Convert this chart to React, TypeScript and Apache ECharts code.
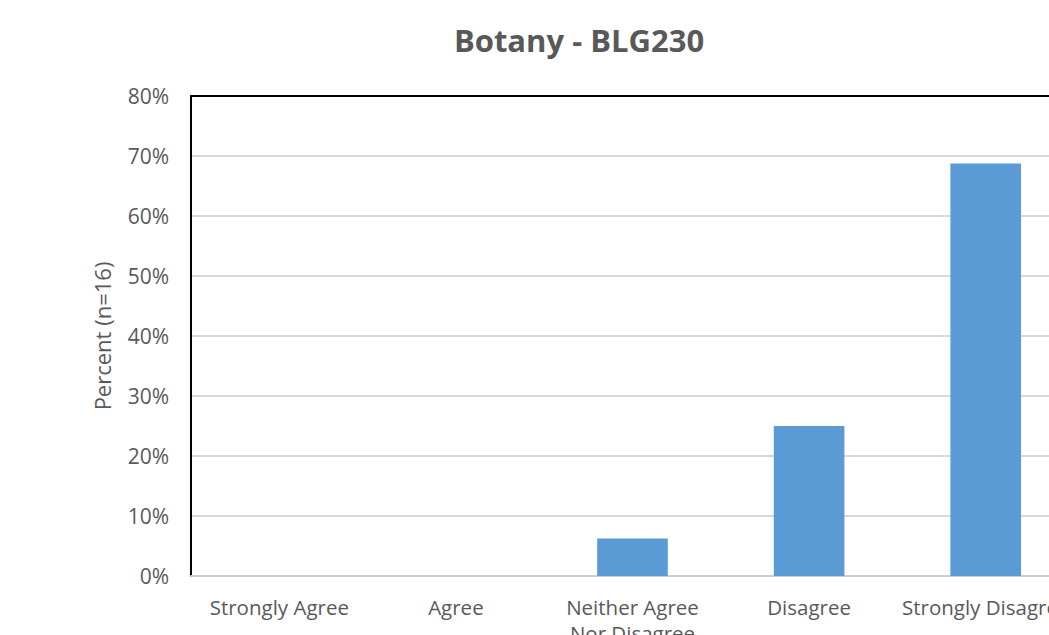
import React, { useEffect, useRef } from "react";
import * as echarts from "echarts";

const categories = ["Strongly Agree", "Agree", "Neither Agree\nNor Disagree", "Disagree", "Strongly Disagree"];
const percentValues = [0, 0, 6.25, 25, 68.75];
const yTicks = { min: 0, max: 80, interval: 10 };
const titleText = "Botany - BLG230";
const yAxisName = "Percent (n=16)";

export default function App() {
  const ref = useRef<HTMLDivElement>(null);
  useEffect(() => {
    if (!ref.current) return;
    const chart = echarts.init(ref.current, undefined, { renderer: "svg" });
    const font = "'Open Sans', 'Noto Sans', sans-serif";
    chart.setOption({
      animation: false,
      textStyle: { fontFamily: font },
      title: {
        text: titleText,
        left: 574,
        top: 19,
        textAlign: "center",
        textStyle: { fontFamily: font, fontSize: 31, fontWeight: "bold", color: "#595959" },
      },
      grid: { left: 191, top: 96, width: 883, height: 480, containLabel: false },
      xAxis: [
        {
          type: "category",
          data: categories,
          axisLine: { show: true, lineStyle: { color: "#d0d0d0", width: 2 } },
          axisTick: { show: false },
          axisLabel: { color: "#595959", fontSize: 20.5, fontFamily: font, margin: 18, lineHeight: 26, interval: 0 },
          splitLine: { show: false },
        },
        {
          type: "category",
          position: "top",
          data: categories,
          axisLine: { show: true, lineStyle: { color: "#000000", width: 2 } },
          axisTick: { show: false },
          axisLabel: { show: false },
        },
      ],
      yAxis: {
        type: "value",
        min: yTicks.min,
        max: yTicks.max,
        interval: yTicks.interval,
        name: yAxisName,
        nameLocation: "middle",
        nameGap: 78,
        nameTextStyle: { color: "#595959", fontSize: 22, fontFamily: font },
        axisLine: { show: true, lineStyle: { color: "#000000", width: 2 } },
        axisTick: { show: false },
        axisLabel: { color: "#595959", fontSize: 21, fontFamily: font, margin: 22, formatter: (v: number) => `${v}%` },
        splitLine: { show: true, lineStyle: { color: "#d9d9d9", width: 2 } },
      },
      series: [
        {
          type: "bar",
          data: percentValues,
          barWidth: "40%",
          itemStyle: { color: "#5b9bd5" },
        },
      ],
    });
    return () => chart.dispose();
  }, []);
  return (
    <div style={{ position: "fixed", left: 0, top: 0, width: 1049, height: 635, overflow: "hidden", background: "#fff" }}>
      <div ref={ref} style={{ width: 1160, height: 700 }} />
    </div>
  );
}
